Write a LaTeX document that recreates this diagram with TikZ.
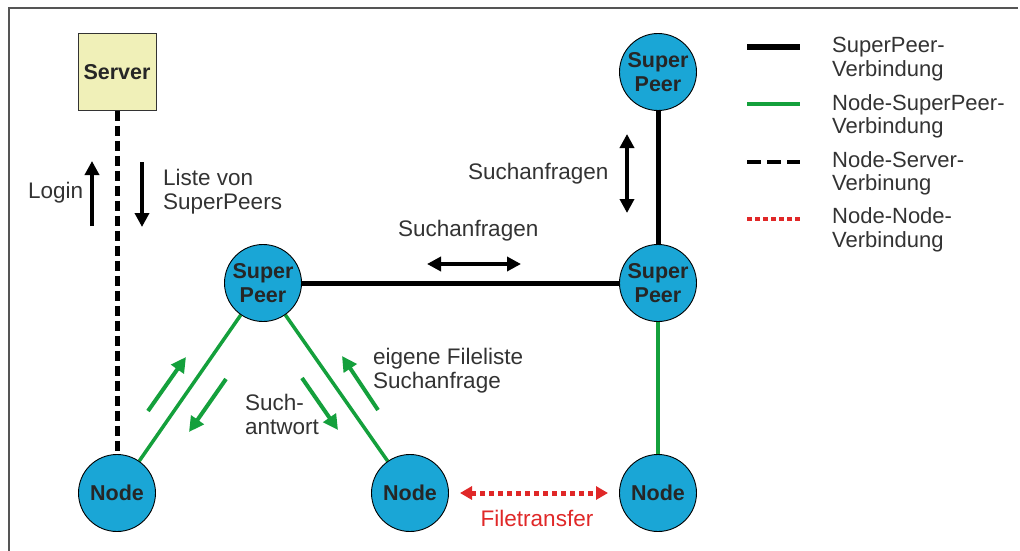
\documentclass[tikz,border=0pt]{standalone}
\usepackage{fontspec}
\setmainfont{Liberation Sans}
\usetikzlibrary{arrows.meta,backgrounds}
\definecolor{peerblue}{HTML}{1AA6D6}
\definecolor{srvyellow}{HTML}{F0F0B8}
\definecolor{lgreen}{HTML}{14A03C}
\definecolor{lred}{HTML}{E02828}
\definecolor{txt}{HTML}{333333}
\definecolor{frame}{HTML}{555555}
\tikzset{
  peer/.style={circle, draw=black, line width=0.9pt, fill=peerblue, minimum size=77pt, inner sep=0pt,
    font=\fontsize{21.5}{23.5}\selectfont\bfseries, align=center, text=black!85},
  srvbox/.style={rectangle, draw=black!80, line width=0.9pt, fill=srvyellow, minimum width=78pt, minimum height=77pt,
    font=\fontsize{21.5}{23.5}\selectfont\bfseries, text=black!85},
  lbl/.style={inner sep=0pt, font=\fontsize{22.5}{24}\selectfont, text=txt, align=left, anchor=west},
  leg/.style={inner sep=0pt, font=\fontsize{22}{23.5}\selectfont, text=txt, align=left, anchor=west},
  spline/.style={line width=5pt, black},
  npline/.style={line width=3.5pt, lgreen},
  nsline/.style={line width=5pt, black, dash pattern=on 10pt off 5pt},
  nnline/.style={line width=5pt, lred, dash pattern=on 5pt off 4pt},
  blkarrow/.style={line width=4pt, black, -{Triangle[length=14pt,width=14pt]}},
  blkdarrow/.style={line width=4pt, black, {Triangle[length=14pt,width=14pt]}-{Triangle[length=14pt,width=14pt]}},
  grnarrow/.style={line width=4pt, lgreen, -{Triangle[length=15pt,width=15pt]}},
  reddarrow/.style={nnline, {Triangle[length=12pt,width=13pt]}-{Triangle[length=12pt,width=13pt]}},
}
\begin{document}
\begin{tikzpicture}[x=1pt,y=-1pt]
\useasboundingbox (0,0) rectangle (1020,551);

% nodes
\node[srvbox] (server) at (117,72) {Server};
\node[peer] (sptop) at (658,72) {Super\\Peer};
\node[peer] (spleft) at (263,283) {Super\\Peer};
\node[peer] (spright) at (658,283) {Super\\Peer};
\node[peer] (nleft) at (117,493) {Node};
\node[peer] (nmid) at (410,493) {Node};
\node[peer] (nright) at (658,493) {Node};

% connections (behind the nodes)
\begin{scope}[on background layer]
\fill[white] (0,0) rectangle (1020,551);
\draw[frame, line width=1.8pt] (9,560) -- (9,8) -- (1018,8);
\draw[nsline] (server.south) -- (nleft.north);
\draw[spline] (spleft.east) -- (spright.west);
\draw[spline] (sptop.south) -- (spright.north);
\draw[npline] (spright.south) -- (nright.north);
\draw[npline] (spleft) -- (nleft);
\draw[npline] (spleft) -- (nmid);
\end{scope}

% Node-Node filetransfer
\coordinate (ftA) at (460,493);
\coordinate (ftB) at (608,493);
\draw[reddarrow] (ftA) -- (ftB);
\node[inner sep=0pt, font=\fontsize{22.5}{24}\selectfont, text=lred] (ftlbl) at (537,518) {Filetransfer};

% Login / Liste
\coordinate (loginA) at (92,226);
\coordinate (loginB) at (92,161);
\draw[blkarrow] (loginA) -- (loginB);
\node[lbl] (login) at (28,193) {Login};
\coordinate (listA) at (142,162);
\coordinate (listB) at (142,227);
\draw[blkarrow] (listA) -- (listB);
\node[lbl] (liste) at (163,191.5) {Liste von\\SuperPeers};

% Suchanfragen
\coordinate (sqA) at (627,134);
\coordinate (sqB) at (627,213);
\draw[blkdarrow] (sqA) -- (sqB);
\node[lbl] (such1) at (468,174) {Suchanfragen};
\coordinate (shA) at (427,264);
\coordinate (shB) at (521,264);
\draw[blkdarrow] (shA) -- (shB);
\node[lbl] (such2) at (398,231) {Suchanfragen};

% green arrows
\coordinate (g1a) at (148,411);
\coordinate (g1b) at (186,357);
\draw[grnarrow] (g1a) -- (g1b);
\coordinate (g2a) at (226,379);
\coordinate (g2b) at (189,432);
\draw[grnarrow] (g2a) -- (g2b);
\coordinate (g3a) at (302,378);
\coordinate (g3b) at (338,430);
\draw[grnarrow] (g3a) -- (g3b);
\coordinate (g4a) at (378,410);
\coordinate (g4b) at (342,356);
\draw[grnarrow] (g4a) -- (g4b);
\node[lbl] (suchantw) at (245,414.5) {Such-\\antwort};
\node[lbl] (eigene) at (373,370.5) {eigene Fileliste\\Suchanfrage};

% legend
\coordinate (l1a) at (747,47); \coordinate (l1b) at (800,47);
\draw[line width=5.5pt, black] (l1a) -- (l1b);
\node[leg] (t1) at (832,59) {SuperPeer-\\Verbindung};
\coordinate (l2a) at (747,104); \coordinate (l2b) at (800,104);
\draw[line width=4pt, lgreen] (l2a) -- (l2b);
\node[leg] (t2) at (832,116.5) {Node-SuperPeer-\\Verbindung};
\coordinate (l3a) at (747,162); \coordinate (l3b) at (800,162);
\draw[line width=4pt, black, dash pattern=on 14pt off 6pt] (l3a) -- (l3b);
\node[leg] (t3) at (832,173.5) {Node-Server-\\Verbinung};
\coordinate (l4a) at (747,219); \coordinate (l4b) at (800,219);
\draw[line width=4pt, lred, dash pattern=on 4.5pt off 3.5pt] (l4a) -- (l4b);
\node[leg] (t4) at (832,230) {Node-Node-\\Verbindung};
\end{tikzpicture}
\end{document}
